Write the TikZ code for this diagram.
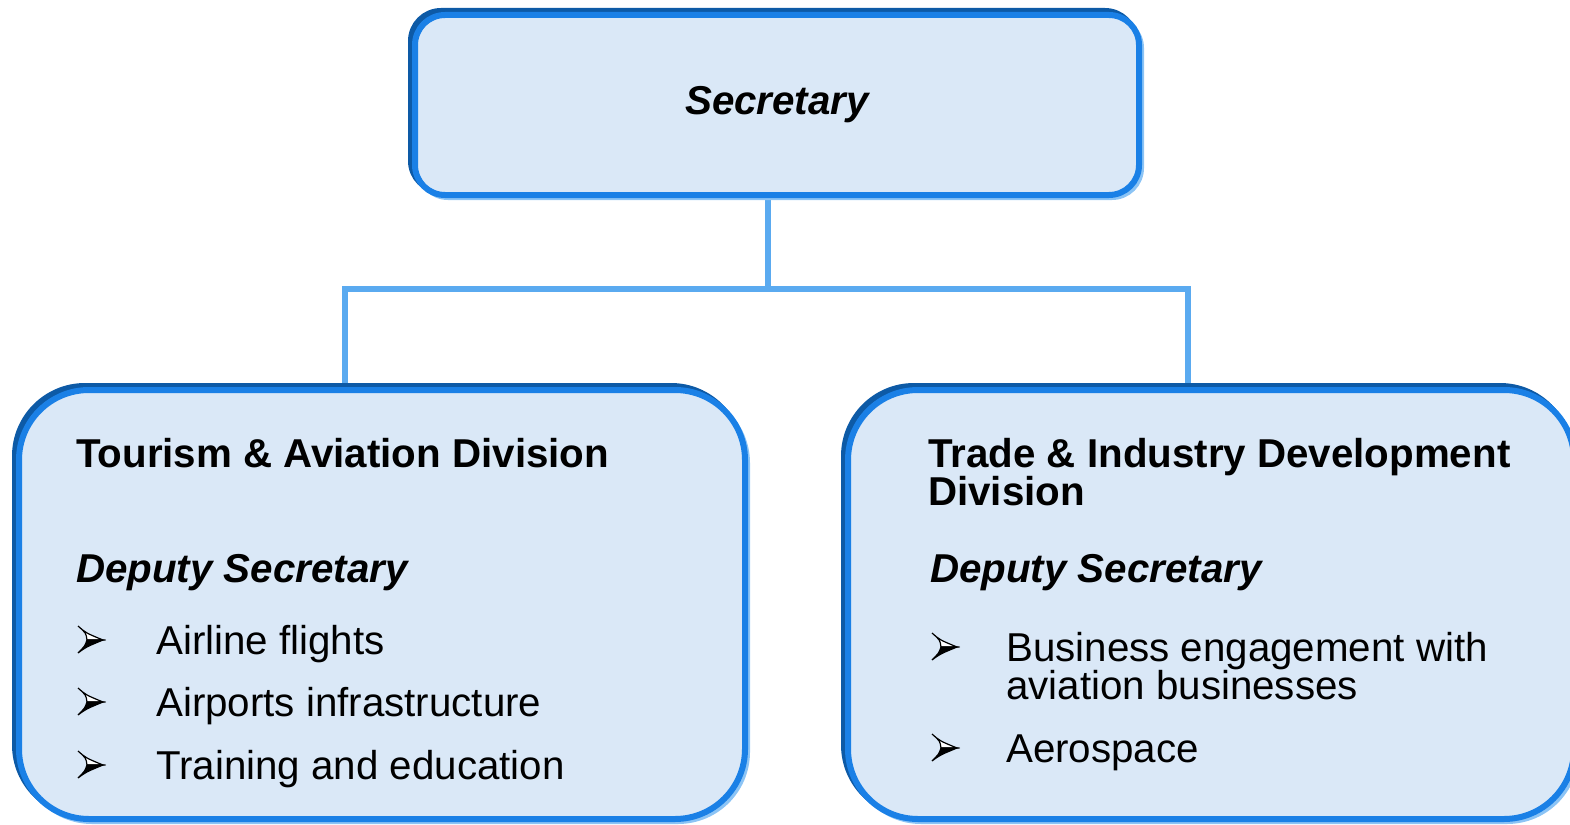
\documentclass[tikz,border=0pt]{standalone}
\usepackage{fontspec}
\setmainfont{Liberation Sans}
\usetikzlibrary{shadows,backgrounds}
\definecolor{boxfill}{HTML}{DAE8F7}
\definecolor{bright}{HTML}{1A80E6}
\definecolor{darkb}{HTML}{0D5AA6}
\definecolor{glow}{HTML}{8CC4F5}
\definecolor{connc}{HTML}{5AAAF0}
\begin{document}
\begin{tikzpicture}[x=1pt,y=1pt,
  box/.style={draw=bright, line width=6pt, fill=boxfill, inner sep=0pt,
    general shadow={shadow xshift=3pt, shadow yshift=-3pt, draw=glow, line width=4pt},
    general shadow={shadow xshift=-4pt, shadow yshift=4pt, draw=darkb, line width=6pt}},
  conn/.style={draw=connc, line width=6pt},
  txt/.style={anchor=base west, inner sep=0pt, font=\fontsize{40.3}{40}\selectfont},
  bul/.pic={
    \filldraw[fill=white, draw=black, line width=1.2pt, line join=miter]
      (0,27) .. controls (8,20) .. (25,13) -- (9,13) .. controls (8,20) .. cycle;
    \filldraw[fill=black, draw=black, line width=1.2pt, line join=miter]
      (9,13) -- (25,13) .. controls (8,6) .. (0,0) .. controls (7,7) .. cycle;
  }]
\useasboundingbox (0,0) rectangle (1570,-824);
\clip (0,0) rectangle (1570,-824);

% boxes
\node[box, rounded corners=30pt, minimum width=724pt, minimum height=180pt,
      font=\fontsize{40.3}{40}\selectfont\bfseries\itshape] (top) at (777,-105) {Secretary};
\node[box, rounded corners=70pt, minimum width=726pt, minimum height=429pt] (left) at (382,-604.5) {};
\node[box, rounded corners=70pt, minimum width=726pt, minimum height=429pt] (right) at (1211,-604.5) {};

% connectors
\coordinate (mj) at (768,-289);
\coordinate (lj) at (345,-289);
\coordinate (rj) at (1188,-289);
\begin{scope}[on background layer]
\draw[conn] (mj |- top.south) -- (mj);
\draw[conn] (lj |- left.north) -- (lj) -- (rj) -- (rj |- right.north);
\end{scope}

% left box text
\node[txt, font=\fontsize{40.3}{40}\selectfont\bfseries] (ltitle) at (76,-467) {Tourism \& Aviation Division};
\node[txt, font=\fontsize{40.3}{40}\selectfont\bfseries\itshape] (ldep) at (76,-582) {Deputy Secretary};
\pic at (78,-653) {bul};
\node[txt] (l1) at (156,-654) {Airline flights};
\pic at (78,-715) {bul};
\node[txt] (l2) at (156,-716) {Airports infrastructure};
\pic at (78,-778) {bul};
\node[txt] (l3) at (156,-779) {Training and education};

% right box text
\node[txt, font=\fontsize{40.3}{40}\selectfont\bfseries] (rtitle1) at (928,-467) {Trade \& Industry Development};
\node[txt, font=\fontsize{40.3}{40}\selectfont\bfseries] (rtitle2) at (928,-505) {Division};
\node[txt, font=\fontsize{40.3}{40}\selectfont\bfseries\itshape] (rdep) at (930,-582) {Deputy Secretary};
\pic at (932,-660) {bul};
\node[txt] (r1) at (1006,-661) {Business engagement with};
\node[txt] (r2) at (1006,-699) {aviation businesses};
\pic at (932,-761) {bul};
\node[txt] (r3) at (1006,-762) {Aerospace};
\end{tikzpicture}
\end{document}
